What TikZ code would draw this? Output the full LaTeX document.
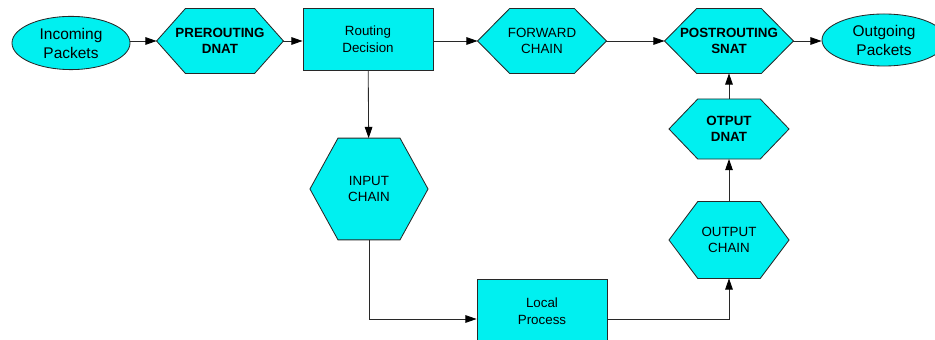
\documentclass[tikz,border=0pt]{standalone}
\usepackage{fontspec}
\setmainfont{Liberation Sans}
\usetikzlibrary{arrows.meta, shapes.geometric, backgrounds}
\definecolor{pktcyan}{RGB}{0,240,240}
\definecolor{edgegray}{RGB}{40,40,40}

\begin{document}
\begin{tikzpicture}[
  x=0.025cm, y=-0.025cm,
  >={Triangle[length=2.8mm,width=1.9mm,color=black]},
  every node/.style={draw=edgegray, fill=pktcyan, align=center, inner sep=1pt, line width=0.6pt, font=\fontsize{9.5}{11.8}\selectfont},
  packet/.style={ellipse, font=\fontsize{11}{13.5}\selectfont},
  proc/.style={rectangle, minimum width=3.25cm},
  hexa/.style 2 args={rectangle, draw=none, fill=none, minimum width=#1, minimum height=#2},
  hexline/.style={draw=edgegray, fill=pktcyan, line width=0.6pt, line join=miter},
  lbl/.style={font=\fontsize{9.5}{11.8}\bfseries\selectfont},
  flow/.style={->, draw=edgegray, line width=0.6pt}
]
\useasboundingbox (0,0) rectangle (935,340);

\node[packet, minimum width=2.95cm, minimum height=1.33cm] (inc) at (71,43) {Incoming\\Packets};
\node[hexa={3.15cm}{1.6cm}, lbl] (pre) at (220,41) {PREROUTING\\DNAT};
\node[proc, minimum height=1.55cm] (route) at (368,39) {Routing\\Decision};
\node[hexa={3.2cm}{1.6cm}] (fwd) at (542,41) {FORWARD\\CHAIN};
\node[hexa={3.2cm}{1.6cm}, lbl] (post) at (729,41) {POSTROUTING\\SNAT};
\node[packet, minimum width=3.1cm, minimum height=1.3cm] (outp) at (884,40) {Outgoing\\Packets};

\node[hexa={2.93cm}{2.52cm}] (inp) at (369,189) {INPUT\\CHAIN};
\node[proc, minimum height=1.6cm] (loc) at (542,311) {Local\\Process};
\node[hexa={2.98cm}{1.9cm}] (ochain) at (729,240) {OUTPUT\\CHAIN};
\node[hexa={2.98cm}{1.48cm}, lbl] (odnat) at (729,129) {OTPUT\\DNAT};

% hexagon outlines behind the chain labels
\begin{scope}[on background layer]
\foreach \h/\c in {pre/0.72cm, fwd/0.8cm, post/0.8cm, inp/0.7cm, ochain/0.72cm, odnat/0.72cm}
  \draw[hexline] (\h.west) -- ([xshift=\c]\h.north west) -- ([xshift=-\c]\h.north east)
    -- (\h.east) -- ([xshift=-\c]\h.south east) -- ([xshift=\c]\h.south west) -- cycle;
\end{scope}

\draw[flow] (inc.east |- pre) -- (pre);
\draw[flow] (pre) -- (route.west |- pre);
\draw[flow] (route.east |- fwd) -- (fwd);
\draw[flow] (fwd) -- (post);
\draw[flow] (post) -- (outp.west |- post);
\draw[flow] (route) -- (inp);
\draw[flow] (inp.south) |- ([yshift=-0.2cm]loc.west);
\draw[flow] ([yshift=-0.2cm]loc.east) -| (ochain.south);
\draw[flow] (ochain) -- (odnat);
\draw[flow] (odnat) -- (post);
\end{tikzpicture}
\end{document}
